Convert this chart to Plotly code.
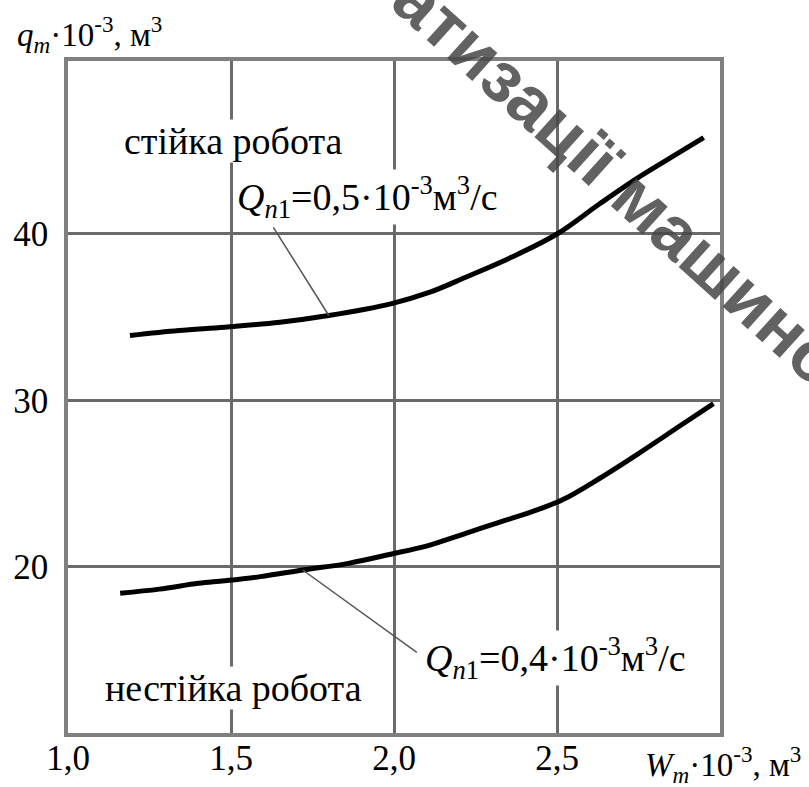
import plotly.graph_objects as go

# Volume of the accumulator W_m (x10^-3 m^3) and limiting volume q_m (x10^-3 m^3)
w_q05 = [1.19, 1.34, 1.48, 1.65, 1.80, 1.99, 2.11, 2.22, 2.36, 2.50, 2.63, 2.75, 2.85, 2.95]
q_q05 = [33.9, 34.2, 34.4, 34.7, 35.1, 35.8, 36.5, 37.4, 38.6, 40.0, 41.8, 43.4, 44.6, 45.8]

w_q04 = [1.16, 1.28, 1.40, 1.48, 1.59, 1.72, 1.86, 1.99, 2.11, 2.22, 2.32, 2.43, 2.52,
         2.63, 2.75, 2.88, 2.98]
q_q04 = [18.4, 18.65, 19.0, 19.15, 19.4, 19.8, 20.2, 20.75, 21.3, 22.0, 22.65, 23.35, 24.05,
         25.3, 26.8, 28.5, 29.8]

x_ticks = [1.0, 1.5, 2.0, 2.5]
x_tick_text = ["1,0", "1,5", "2,0", "2,5"]
y_ticks = [20, 30, 40]
y_tick_text = ["20", "30", "40"]

SERIF = "Liberation Serif"
GRID = "#6a6a6a"
FRAME = "#808080"

fig = go.Figure()
for w, q in ((w_q05, q_q05), (w_q04, q_q04)):
    fig.add_trace(go.Scatter(
        x=w, y=q, mode="lines",
        line=dict(color="black", width=5, shape="spline", smoothing=1.0),
        showlegend=False, hoverinfo="skip"))

# leader lines from the curve labels to the curves
fig.add_shape(type="line", x0=w_q05[4], y0=q_q05[4], x1=1.63, y1=40.4,
              line=dict(color="#555555", width=1.5))
fig.add_shape(type="line", x0=w_q04[5], y0=q_q04[5], x1=2.07, y1=14.85,
              line=dict(color="#555555", width=1.5))

lbl_font = dict(family=SERIF, size=38, color="black")
cap_font = dict(family=SERIF, size=33, color="black")

fig.add_annotation(x=1.507, y=45.6, text="стійка робота", showarrow=False,
                   font=lbl_font, bgcolor="white", borderpad=0)
fig.add_annotation(x=1.509, y=12.7, text="нестійка робота", showarrow=False,
                   font=lbl_font, bgcolor="white", borderpad=0)
fig.add_annotation(x=1.515, y=42.2, xanchor="left",
                   text="<i>Q</i><sub><i>n</i>1</sub>=0,5·10<sup>-3</sup>м<sup>3</sup>/с",
                   showarrow=False, font=lbl_font, bgcolor="white", borderpad=0)
fig.add_annotation(x=2.093, y=14.5, xanchor="left",
                   text="<i>Q</i><sub><i>n</i>1</sub>=0,4·10<sup>-3</sup>м<sup>3</sup>/с",
                   showarrow=False, font=lbl_font, bgcolor="white", borderpad=0)

# axis captions
fig.add_annotation(xref="paper", yref="paper", x=-0.081, y=1.04, xanchor="left",
                   yanchor="middle",
                   text="<i>q<sub>m</sub></i>·10<sup>-3</sup>, м<sup>3</sup>",
                   showarrow=False, font=cap_font)
fig.add_annotation(xref="paper", yref="paper", x=0.882, y=-0.047, xanchor="left",
                   yanchor="middle",
                   text="<i>W<sub>m</sub></i>·10<sup>-3</sup>, м<sup>3</sup>",
                   showarrow=False, font=cap_font)

# watermark
fig.add_annotation(xref="paper", yref="paper", x=0.844, y=0.824,
                   xanchor="center", yanchor="middle",
                   text="<b>атизації машино</b>", textangle=42, showarrow=False,
                   font=dict(family="Liberation Sans", size=71,
                             color="rgba(70,70,70,0.85)"))

tick_font = dict(family=SERIF, size=35, color="black")
fig.update_xaxes(range=[1.0, 3.0], tickvals=x_ticks, ticktext=x_tick_text,
                 showgrid=True, gridcolor=GRID, gridwidth=2.5, zeroline=False,
                 showline=True, linecolor=FRAME, linewidth=3.5, mirror=True,
                 ticks="", ticklabelstandoff=-9, automargin=False, tickfont=tick_font)
fig.update_yaxes(range=[10, 50.4], tickvals=y_ticks, ticktext=y_tick_text,
                 showgrid=True, gridcolor=GRID, gridwidth=2.5, zeroline=False,
                 showline=True, linecolor=FRAME, linewidth=3.5, mirror=True,
                 ticks="", ticklabelstandoff=9, automargin=False, tickfont=tick_font)

fig.update_layout(width=809, height=787, margin=dict(l=68, r=89, t=61, b=54),
                  plot_bgcolor="white", paper_bgcolor="white")

fig.write_html("out.html")
